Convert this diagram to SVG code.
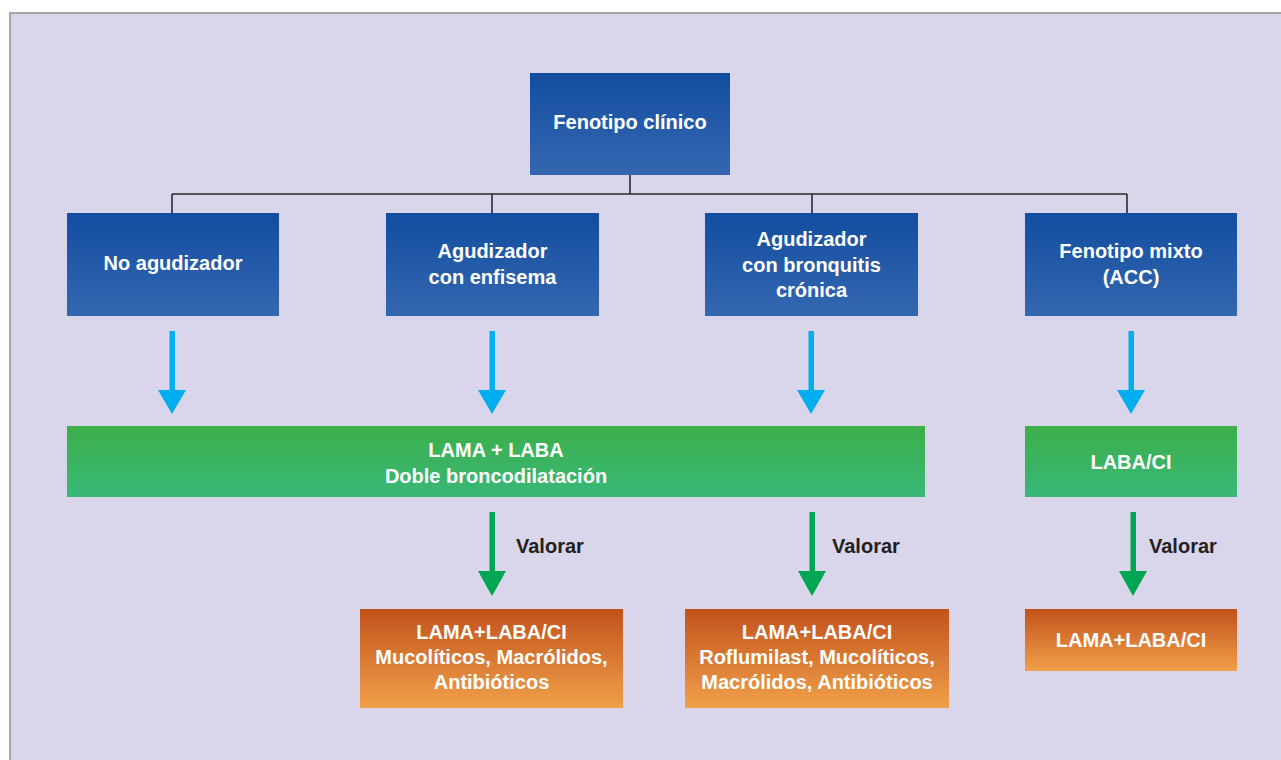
<svg xmlns="http://www.w3.org/2000/svg" width="1281" height="760" viewBox="0 0 1281 760">
<defs>
<linearGradient id="gBlue" x1="0" y1="0" x2="0" y2="1"><stop offset="0" stop-color="#124d9f"/><stop offset="1" stop-color="#3567b1"/></linearGradient>
<linearGradient id="gGreen" x1="0" y1="0" x2="0" y2="1"><stop offset="0" stop-color="#3daf4a"/><stop offset="1" stop-color="#38b878"/></linearGradient>
<linearGradient id="gOrange" x1="0" y1="0" x2="0" y2="1"><stop offset="0" stop-color="#c2521b"/><stop offset="1" stop-color="#f0a04a"/></linearGradient>
<style>
.t{font-family:"Liberation Sans",Arial,sans-serif;font-size:20px;font-weight:bold;fill:#ffffff;text-anchor:middle}
.v{font-family:"Liberation Sans",Arial,sans-serif;font-size:20px;font-weight:bold;fill:#231f20}
.ln{stroke:#2b2b2b;stroke-width:1.6;fill:none}
.ba{fill:#00aeef}
.ga{fill:#00a651}
</style>
</defs>
<rect x="0" y="0" width="1281" height="760" fill="#ffffff"/>
<rect x="10" y="13" width="1272" height="750" fill="#d9d6eb" stroke="#a8a8a8" stroke-width="2"/>

<g id="connectors">
<path class="ln" d="M630 175V194M172 194H1127M172 194V213M492 194V213M812 194V213M1127 194V213"/>
<g class="ba">
<rect x="169.5" y="331" width="5.5" height="61"/><polygon points="158,390 186,390 172,414"/>
<rect x="489.5" y="331" width="5.5" height="61"/><polygon points="478,390 506,390 492,414"/>
<rect x="808.5" y="331" width="5.5" height="61"/><polygon points="797,390 825,390 811,414"/>
<rect x="1128.5" y="331" width="5.5" height="61"/><polygon points="1117,390 1145,390 1131,414"/>
</g>
<g class="ga">
<rect x="489.5" y="512" width="5.5" height="61"/><polygon points="478,571 506,571 492,596"/>
<rect x="809.5" y="512" width="5.5" height="61"/><polygon points="798,571 826,571 812,596"/>
<rect x="1130.5" y="512" width="5.5" height="61"/><polygon points="1119,571 1147,571 1133,596"/>
</g>
<text class="v" x="516" y="553">Valorar</text>
<text class="v" x="832" y="553">Valorar</text>
<text class="v" x="1149" y="553">Valorar</text>
</g>

<g id="n-fenotipo">
<rect x="530" y="73" width="200" height="102" fill="url(#gBlue)"/>
<text class="t" x="630" y="129">Fenotipo clínico</text>
</g>
<g id="n-noagud">
<rect x="67" y="213" width="212" height="103" fill="url(#gBlue)"/>
<text class="t" x="173" y="270">No agudizador</text>
</g>
<g id="n-enfisema">
<rect x="386" y="213" width="213" height="103" fill="url(#gBlue)"/>
<text class="t" x="492.5" y="258">Agudizador</text>
<text class="t" x="492.5" y="284">con enfisema</text>
</g>
<g id="n-bronquitis">
<rect x="705" y="213" width="213" height="103" fill="url(#gBlue)"/>
<text class="t" x="811.5" y="246">Agudizador</text>
<text class="t" x="811.5" y="271.5">con bronquitis</text>
<text class="t" x="811.5" y="297">crónica</text>
</g>
<g id="n-mixto">
<rect x="1025" y="213" width="212" height="103" fill="url(#gBlue)"/>
<text class="t" x="1131" y="258">Fenotipo mixto</text>
<text class="t" x="1131" y="284">(ACC)</text>
</g>
<g id="n-lamalaba">
<rect x="67" y="426" width="858" height="71" fill="url(#gGreen)"/>
<text class="t" x="496" y="457">LAMA + LABA</text>
<text class="t" x="496" y="483">Doble broncodilatación</text>
</g>
<g id="n-labaci">
<rect x="1025" y="426" width="212" height="71" fill="url(#gGreen)"/>
<text class="t" x="1131" y="469">LABA/CI</text>
</g>
<g id="n-o1">
<rect x="360" y="609" width="263" height="99" fill="url(#gOrange)"/>
<text class="t" x="491.5" y="639">LAMA+LABA/CI</text>
<text class="t" x="491.5" y="664">Mucolíticos, Macrólidos,</text>
<text class="t" x="491.5" y="689">Antibióticos</text>
</g>
<g id="n-o2">
<rect x="685" y="609" width="264" height="99" fill="url(#gOrange)"/>
<text class="t" x="817" y="639">LAMA+LABA/CI</text>
<text class="t" x="817" y="664">Roflumilast, Mucolíticos,</text>
<text class="t" x="817" y="689">Macrólidos, Antibióticos</text>
</g>
<g id="n-o3">
<rect x="1025" y="609" width="212" height="62" fill="url(#gOrange)"/>
<text class="t" x="1131" y="647">LAMA+LABA/CI</text>
</g>
</svg>
